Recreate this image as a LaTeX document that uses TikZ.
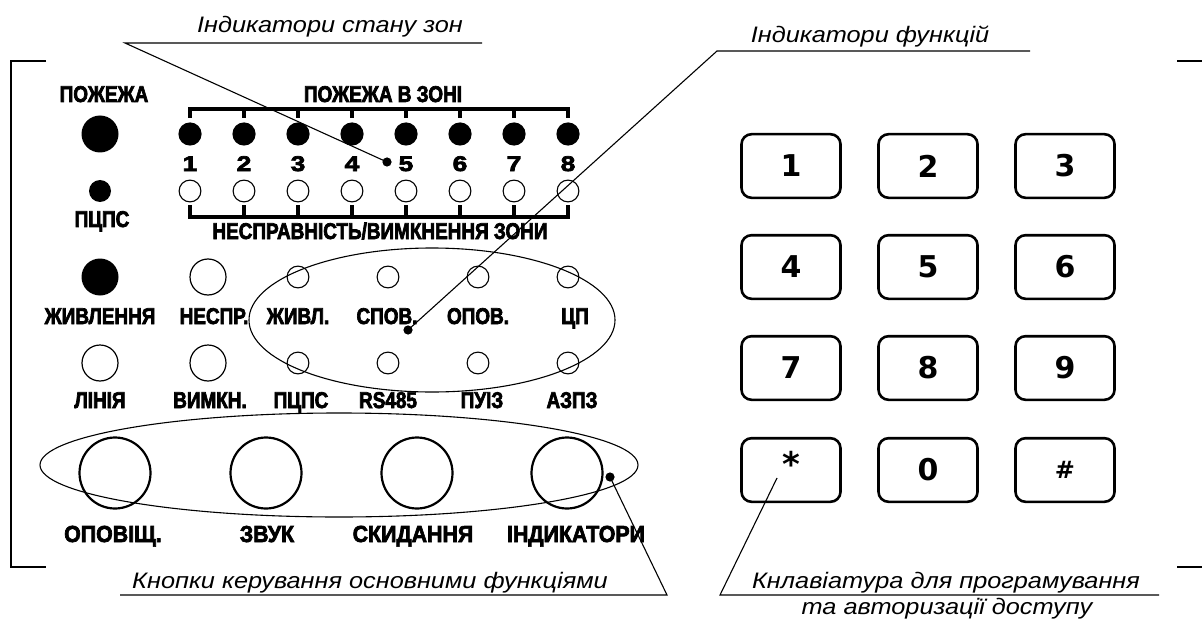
\documentclass[tikz,border=0pt]{standalone}
\usepackage{fontspec}
\usepackage{tikz}
\newfontfamily\panelfont[FakeStretch=0.83, BoldFeatures={FakeBold=3}]{Liberation Sans}
\newfontfamily\btnfont[FakeStretch=0.92, BoldFeatures={FakeBold=3}]{Liberation Sans}
\newfontfamily\numfont[FakeStretch=1.25, BoldFeatures={FakeBold=3.5}]{Liberation Sans}
\newfontfamily\notefont[FakeStretch=1.13]{Liberation Sans}
\newfontfamily\keyfont{DejaVu Sans}

\begin{document}
\begin{tikzpicture}[x=0.5pt, y=-0.5pt,
    lbl/.style={font=\panelfont\bfseries\fontsize{11.4}{12}\selectfont, anchor=base, inner sep=0pt},
    btnlbl/.style={lbl, font=\btnfont\bfseries\fontsize{11.6}{12}\selectfont},
    num/.style={lbl, font=\numfont\bfseries\fontsize{10.6}{11}\selectfont},
    note/.style={font=\notefont\itshape\fontsize{11.2}{12}\selectfont, anchor=base, inner sep=0pt},
    ledon/.style={circle, fill=black, inner sep=0pt, minimum size=11.6pt},
    ledoff/.style={circle, draw=black, line width=0.55pt, inner sep=0pt, minimum size=10.9pt},
    bigon/.style={circle, fill=black, inner sep=0pt, minimum size=18.5pt},
    bigoff/.style={circle, draw=black, line width=0.6pt, inner sep=0pt, minimum size=18pt},
    btn/.style={circle, draw=black, line width=1.1pt, inner sep=0pt, minimum size=35.5pt},
    key/.style={draw=black, line width=1.3pt, rounded corners=5pt, minimum width=49.5pt, minimum height=31.8pt, inner sep=0pt, font=\keyfont\bfseries\fontsize{15}{16}\selectfont},
    dot/.style={circle, fill=black, inner sep=0pt, minimum size=4.6pt},
    bar/.style={line width=2pt},
    lead/.style={line width=0.55pt}]
    \useasboundingbox (0,0) rectangle (1202,620);

    % Panel frame
    \draw[lead] (46,61) -- (11,61) -- (11,567) -- (46,567);
    \draw[lead] (1177,61) -- (1202,61);
    \draw[lead] (1177,567) -- (1202,567);

    % Fire and PCPS indicators
    \node[lbl] (fire) at (104,102) {ПОЖЕЖА};
    \node[bigon] (lfire) at (100,134) {};
    \node[ledon, minimum size=11pt] (lpcps) at (100,191) {};
    \node[lbl] (pcps) at (102,227) {ПЦПС};

    % Zone indicators
    \node[lbl] (zfire) at (383,102) {ПОЖЕЖА В ЗОНІ};
    \draw[bar] (190,118) -- (190,109) -- (568,109) -- (568,118);
    \draw[bar] (244,109) -- (244,118) (298,109) -- (298,118) (352,109) -- (352,118)
        (406,109) -- (406,118) (460,109) -- (460,118) (514,109) -- (514,118);
    \node[ledon] (z1) at (190,134) {};
    \node[ledon] (z2) at (244,134) {};
    \node[ledon] (z3) at (298,134) {};
    \node[ledon] (z4) at (352,134) {};
    \node[ledon] (z5) at (406,134) {};
    \node[ledon] (z6) at (460,134) {};
    \node[ledon] (z7) at (514,134) {};
    \node[ledon] (z8) at (568,134) {};
    \node[num] (n1) at (190,171) {1};
    \node[num] (n2) at (244,171) {2};
    \node[num] (n3) at (298,171) {3};
    \node[num] (n4) at (352,171) {4};
    \node[num] (n5) at (406,171) {5};
    \node[num] (n6) at (460,171) {6};
    \node[num] (n7) at (514,171) {7};
    \node[num] (n8) at (568,171) {8};
    \node[ledoff] (y1) at (190,191) {};
    \node[ledoff] (y2) at (244,191) {};
    \node[ledoff] (y3) at (298,191) {};
    \node[ledoff] (y4) at (352,191) {};
    \node[ledoff] (y5) at (406,191) {};
    \node[ledoff] (y6) at (460,191) {};
    \node[ledoff] (y7) at (514,191) {};
    \node[ledoff] (y8) at (568,191) {};
    \draw[bar] (190,205) -- (190,217) -- (568,217) -- (568,205);
    \draw[bar] (244,217) -- (244,205) (298,217) -- (298,205) (352,217) -- (352,205)
        (406,217) -- (406,205) (460,217) -- (460,205) (514,217) -- (514,205);
    \node[lbl] (zfault) at (380,239) {НЕСПРАВНІСТЬ/ВИМКНЕННЯ ЗОНИ};

    % Power, fault and function indicators
    \node[bigon] (lpwr) at (100,277) {};
    \node[bigoff] (lflt) at (208,277) {};
    \node[ledoff] (f1) at (298,277) {};
    \node[ledoff] (f2) at (388,277) {};
    \node[ledoff] (f3) at (478,277) {};
    \node[ledoff] (f4) at (568,277) {};
    \node[lbl] (pwr) at (100,324) {ЖИВЛЕННЯ};
    \node[lbl] (flt) at (214,324) {НЕСПР.};
    \node[lbl] (fpwr) at (298,324) {ЖИВЛ.};
    \node[lbl] (fspov) at (387,324) {СПОВ.};
    \node[lbl] (fopov) at (478,324) {ОПОВ.};
    \node[lbl] (fcpu) at (575,324) {ЦП};
    \node[bigoff] (lline) at (100,363) {};
    \node[bigoff] (loff) at (208,363) {};
    \node[ledoff] (f5) at (298,363) {};
    \node[ledoff] (f6) at (388,363) {};
    \node[ledoff] (f7) at (478,363) {};
    \node[ledoff] (f8) at (568,363) {};
    \node[lbl] (line) at (100,408) {ЛІНІЯ};
    \node[lbl] (off) at (210,408) {ВИМКН.};
    \node[lbl] (fpcps) at (301,408) {ПЦПС};
    \node[lbl] (frs) at (388,408) {RS485};
    \node[lbl] (fpui) at (482,408) {ПУІЗ};
    \node[lbl] (fazpz) at (572,408) {АЗПЗ};
    \draw[lead] (432,320) ellipse [x radius=183, y radius=72];

    % Control buttons
    \node[btn] (b1) at (115,473) {};
    \node[btn] (b2) at (266,473) {};
    \node[btn] (b3) at (417,473) {};
    \node[btn] (b4) at (567,473) {};
    \node[btnlbl] (t1) at (113,542) {ОПОВІЩ.};
    \node[btnlbl] (t2) at (267,542) {ЗВУК};
    \node[btnlbl] (t3) at (413,542) {СКИДАННЯ};
    \node[btnlbl] (t4) at (576,542) {ІНДИКАТОРИ};
    \draw[lead] (339,465) ellipse [x radius=299, y radius=52];

    % Keypad
    \node[key] (k1) at (791,166) {1};
    \node[key] (k2) at (928,166) {2};
    \node[key] (k3) at (1065,166) {3};
    \node[key] (k4) at (791,267) {4};
    \node[key] (k5) at (928,267) {5};
    \node[key] (k6) at (1065,267) {6};
    \node[key] (k7) at (791,368) {7};
    \node[key] (k8) at (928,368) {8};
    \node[key] (k9) at (1065,368) {9};
    \node[key] (kstar) at (791,470) {\raisebox{-6pt}{\smash{\fontsize{17}{17}\selectfont *}}};
    \node[key] (k0) at (928,470) {0};
    \node[key] (khash) at (1065,470) {\fontsize{12}{12}\selectfont\#};

    % Callouts
    \node[note] (nzone) at (330,33) {Індикатори стану зон};
    \coordinate (uz1) at (125,43);
    \coordinate (uz2) at (482,43);
    \node[dot] (dz) at (387,162) {};
    \draw[lead] (uz2) -- (uz1) -- (dz.center);

    \node[note] (nfunc) at (870,43) {Індикатори функцій};
    \coordinate (uf1) at (717,51);
    \coordinate (uf2) at (1030,51);
    \node[dot] (df) at (408,330) {};
    \draw[lead] (uf2) -- (uf1) -- (df.center);

    \node[note] (nbtn) at (370,588) {Кнопки керування основними функціями};
    \coordinate (ub1) at (120,595);
    \coordinate (ub2) at (667,595);
    \node[dot] (db) at (610,477) {};
    \draw[lead] (ub1) -- (ub2) -- (db.center);

    \node[note] (nkey) at (946,588) {Кнлавіатура для програмування};
    \node[note] (nkey2) at (947,614) {та авторизації доступу};
    \coordinate (uk1) at (720,595);
    \coordinate (uk2) at (1159,595);
    \coordinate (ks) at (777,478);
    \draw[lead] (uk2) -- (uk1) -- (ks);
\end{tikzpicture}
\end{document}
